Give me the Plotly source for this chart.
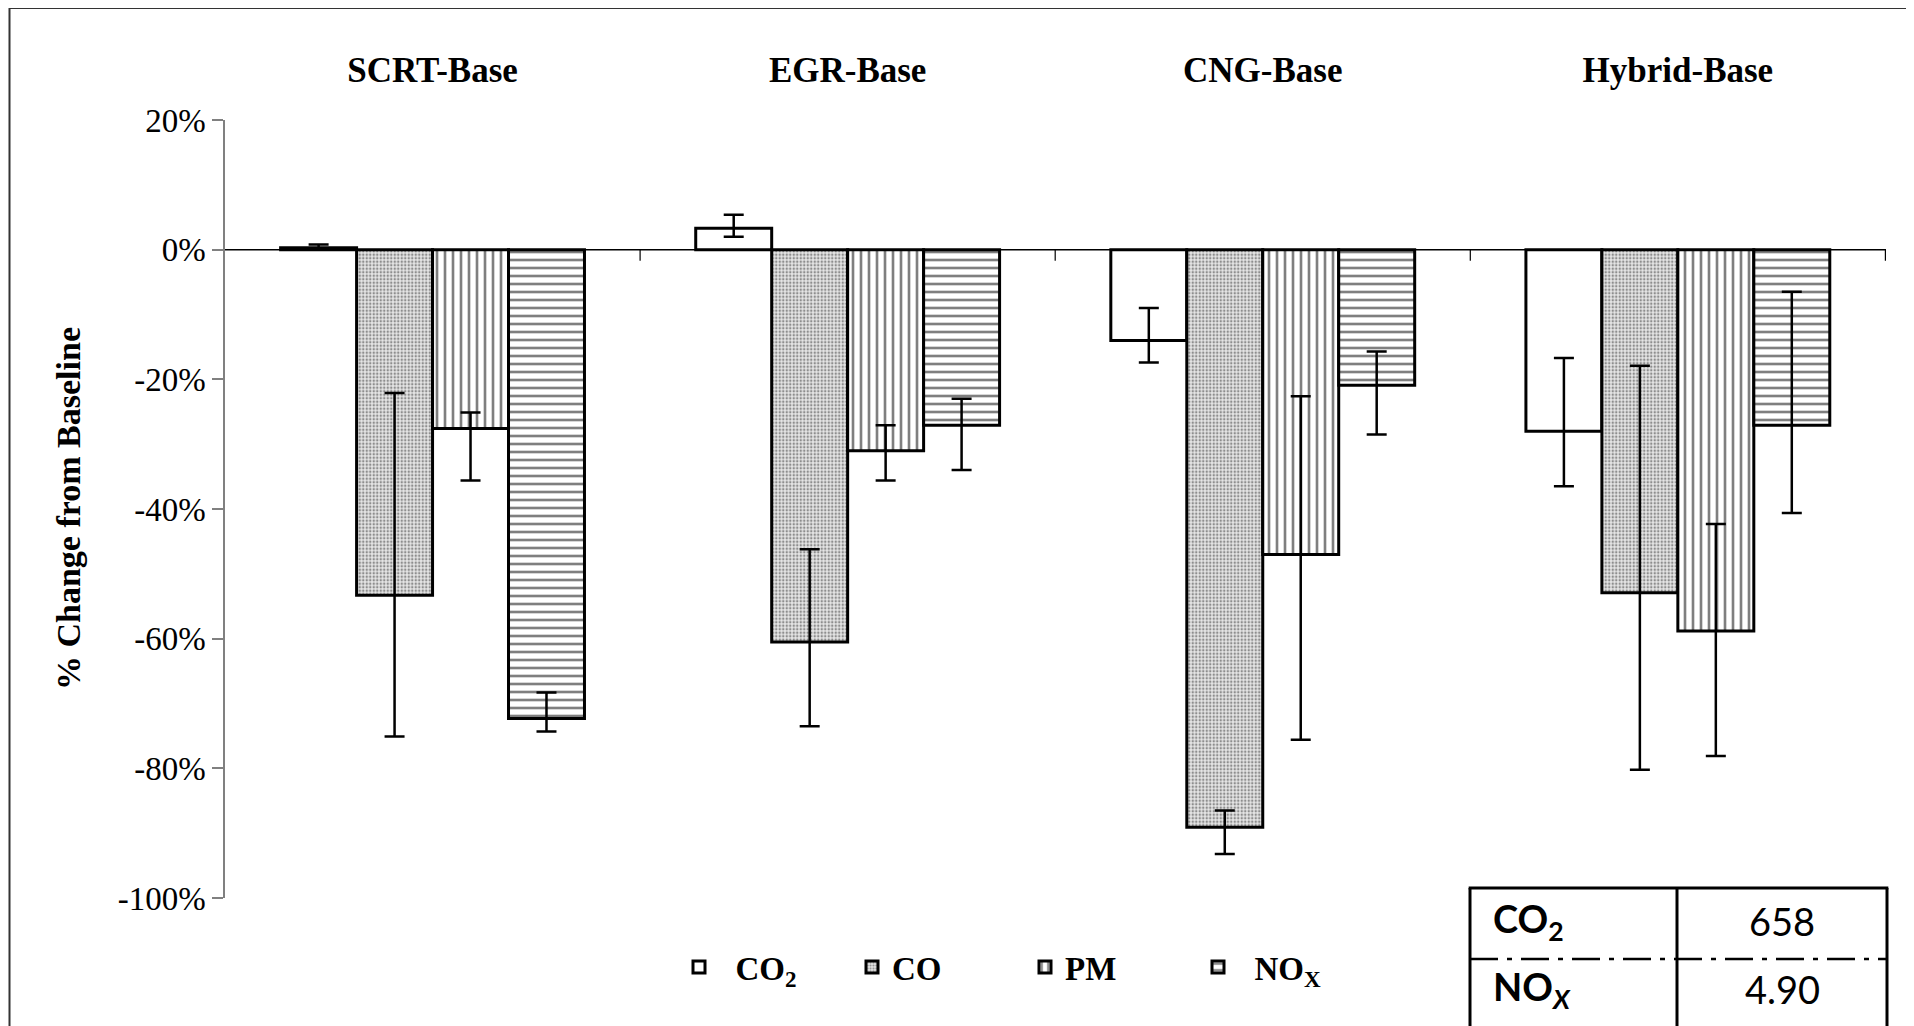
import plotly.graph_objects as go

# ---------------- data ----------------
categories = ["SCRT-Base", "EGR-Base", "CNG-Base", "Hybrid-Base"]

co2 = [0.3, 3.3, -14.0, -28.0]
co2_plus = [0.5, 2.1, 5.0, 11.3]
co2_minus = [0.3, 1.3, 3.4, 8.5]

co = [-53.3, -60.5, -89.1, -52.9]
co_plus = [31.2, 14.3, 2.6, 35.0]
co_minus = [21.8, 13.0, 4.1, 27.3]

pm = [-27.6, -31.0, -47.0, -58.8]
pm_plus = [2.5, 3.9, 24.4, 16.5]
pm_minus = [8.0, 4.6, 28.6, 19.3]

nox = [-72.3, -27.1, -20.9, -27.1]
nox_plus = [4.0, 4.1, 5.2, 20.6]
nox_minus = [2.0, 6.9, 7.6, 13.5]

y_tick_vals = [20, 0, -20, -40, -60, -80, -100]
y_tick_text = ["20%", "0%", "-20%", "-40%", "-60%", "-80%", "-100%"]

series_names = ["CO<sub>2</sub>", "CO", "PM", "NO<sub>X</sub>"]

table_labels = ["CO<sub>2</sub>", "NO<sub><i>X</i></sub>"]
table_values = ["658", "4.90"]

# ---------------- figure ----------------
# page body has an 8px margin, so the figure is drawn 8px smaller and offset
OFF = 8
W, H = 1914 - OFF, 1026 - OFF
PLOT_L, PLOT_R, PLOT_T, PLOT_B = 225, 1886, 120, 898   # in screen coordinates
ML = PLOT_L - OFF
MT = PLOT_T - OFF
MR = W - (PLOT_R - OFF)
MB = H - (PLOT_B - OFF)
PW = W - ML - MR
PH = H - MT - MB


def px_x(p):
    return (p - OFF - ML) / PW


def px_y(p):
    return (H - MB - (p - OFF)) / PH


SERIF = "Liberation Serif, Times New Roman, serif"
NBSP = "\u00a0"

fig = go.Figure()

styles = [
    dict(color="white", pattern=None, pad=2),
    dict(color="#e0e0e0", pattern=dict(shape=".", size=3.5, solidity=0.4,
                                        fgcolor="#333", bgcolor="#e6e6e6"), pad=0),
    dict(color="white", pattern=dict(shape="|", size=8, solidity=0.33,
                                     fgcolor="black", bgcolor="white"), pad=0),
    dict(color="white", pattern=dict(shape="-", size=8, solidity=0.33,
                                     fgcolor="black", bgcolor="white"), pad=2),
]
vals = [co2, co, pm, nox]
plus = [co2_plus, co_plus, pm_plus, nox_plus]
minus = [co2_minus, co_minus, pm_minus, nox_minus]

for name, v, p, m, st in zip(series_names, vals, plus, minus, styles):
    marker = dict(color=st["color"], line=dict(color="black", width=3))
    if st["pattern"] is not None:
        marker["pattern"] = st["pattern"]
    fig.add_trace(go.Bar(
        x=categories, y=v, name=NBSP * st["pad"] + name, marker=marker,
        error_y=dict(type="data", symmetric=False, array=p, arrayminus=m,
                     color="black", thickness=2.5, width=10),
    ))

fig.update_layout(
    width=W, height=H,
    margin=dict(l=ML, r=MR, t=MT, b=MB, pad=0),
    paper_bgcolor="white", plot_bgcolor="white",
    barmode="group", bargap=0.268, bargroupgap=0,
    showlegend=True,
    legend=dict(orientation="h", x=px_x(679), y=px_y(967), xanchor="left",
                yanchor="middle",
                font=dict(family=SERIF, size=33, color="black", weight="bold"),
                entrywidth=128, entrywidthmode="pixels", bgcolor="rgba(0,0,0,0)",
                traceorder="normal"),
    xaxis=dict(side="top", showline=False, ticks="", showgrid=False,
               zeroline=False, ticklabelstandoff=30,
               tickfont=dict(family=SERIF, size=35, color="black", weight="bold")),
    yaxis=dict(range=[-100, 20], tickvals=y_tick_vals, ticktext=y_tick_text,
               showline=True, linecolor="#808080", linewidth=1.5,
               ticks="outside", ticklen=11, tickcolor="#808080", tickwidth=1.5,
               showgrid=False, zeroline=False,
               tickfont=dict(family=SERIF, size=33, color="black")),
)

# zero line acting as category axis, with tick marks at category boundaries
fig.add_shape(type="line", xref="paper", yref="y", x0=0, x1=1, y0=0, y1=0,
              line=dict(color="black", width=1.5), layer="below")
for i in range(len(categories)):
    fig.add_shape(type="line", xref="x", yref="y", ysizemode="pixel", yanchor=0,
                  x0=i + 0.5, x1=i + 0.5, y0=0, y1=-11,
                  line=dict(color="black", width=1.2))

# y-axis title
fig.add_annotation(text="<b>% Change from Baseline</b>", xref="paper", yref="paper",
                   x=px_x(68), y=0.5, xanchor="center", yanchor="middle",
                   textangle=-90, showarrow=False,
                   font=dict(family=SERIF, size=34, color="black"))

# outer frame
fig.add_shape(type="rect", xref="paper", yref="paper",
              x0=px_x(9.5), x1=px_x(1910), y0=px_y(1080), y1=px_y(8),
              line=dict(color="#333", width=2), fillcolor="rgba(0,0,0,0)")

# small table in bottom-right
tl, tm, tr = px_x(1470), px_x(1677), px_x(1887)
tt, td, tb = px_y(888), px_y(959), px_y(1080)
tbl_line = dict(color="black", width=3)
fig.add_shape(type="line", xref="paper", yref="paper", x0=tl - 0.0008, x1=tr + 0.0008,
              y0=tt, y1=tt, line=tbl_line)
fig.add_shape(type="line", xref="paper", yref="paper", x0=tl, x1=tl, y0=tt, y1=tb, line=tbl_line)
fig.add_shape(type="line", xref="paper", yref="paper", x0=tm, x1=tm, y0=tt, y1=tb, line=tbl_line)
fig.add_shape(type="line", xref="paper", yref="paper", x0=tr, x1=tr, y0=tt, y1=tb, line=tbl_line)
fig.add_shape(type="line", xref="paper", yref="paper", x0=tl, x1=tr, y0=td, y1=td,
              line=dict(color="black", width=2.5, dash="28px,9px,5px,9px"))

SANS = "Lato, Open Sans, sans-serif"
row_y = [px_y(921), px_y(989)]
for lab, val, ry in zip(table_labels, table_values, row_y):
    fig.add_annotation(text="<b>" + lab + "</b>", xref="paper", yref="paper",
                       x=px_x(1491), y=ry, xanchor="left", yanchor="middle",
                       showarrow=False, font=dict(family=SANS, size=38, color="black"))
    fig.add_annotation(text=val, xref="paper", yref="paper",
                       x=(tm + tr) / 2, y=ry, xanchor="center", yanchor="middle",
                       showarrow=False, font=dict(family=SANS, size=38, color="black"))

fig.write_html("out.html")
